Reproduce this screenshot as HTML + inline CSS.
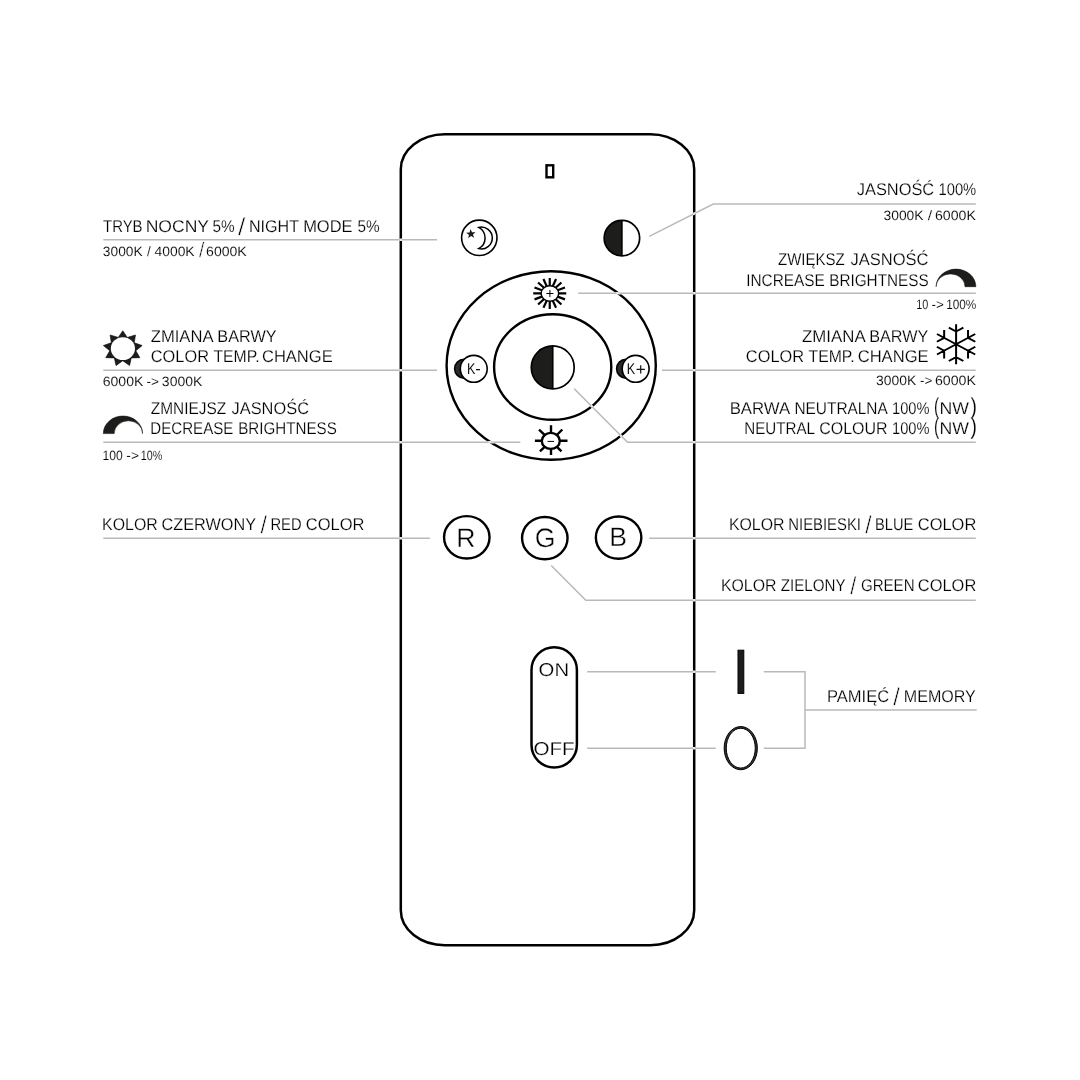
<!DOCTYPE html>
<html lang="pl">
<head>
<meta charset="utf-8">
<style>
html,body{margin:0;padding:0;background:#fff;}
body{width:1080px;height:1080px;overflow:hidden;}
svg{display:block;will-change:transform;}
text{font-family:"Liberation Sans",sans-serif;fill:#000;text-rendering:geometricPrecision;}
.m{font-size:17px;}
.s{font-size:13.5px;}
.thin{stroke:#fff;stroke-width:0.2px;}
.s.thin{stroke-width:0.12px;}
.tall{stroke-width:0.55px;}
.par{stroke-width:0.15px;}
.kt{fill:#111;}
.big{font-size:26.7px;stroke:#fff;stroke-width:0.4px;}
.sw{font-size:18.6px;stroke:#fff;stroke-width:0.2px;}
.ln{fill:none;stroke:#b9b9b9;stroke-width:1.5;}
.bk{fill:none;stroke:#000;}
</style>
</head>
<body>
<svg width="1080" height="1080" viewBox="0 0 1080 1080">
<rect width="1080" height="1080" fill="#fff"/>
<g id="remote">
<rect class="bk" x="400.8" y="134.2" width="293.4" height="811.1" rx="44" ry="35" stroke-width="2.5"/>
<rect class="bk" x="546.5" y="165.3" width="6.7" height="12" stroke-width="2.4"/>
</g>
<g id="btn-night">
<circle class="bk" cx="479.3" cy="237.85" r="17.7" stroke-width="1.6"/>
<path class="bk" stroke-width="1.5" stroke-linejoin="miter" d="M478.7 227.4A10.93 10.93 0 1 1 478.7 248.6A12 12 0 0 0 478.7 227.4Z"/>
<polygon fill="#1d1d1b" points="470.55,229.01 472.01,232.22 475.54,232.13 472.94,234.51 474.11,237.83 471.05,236.09 468.25,238.24 468.95,234.79 466.05,232.79 469.55,232.39"/>
</g>
<g><path fill="#1d1d1b" d="M621.9 220.35A17.75 17.75 0 0 0 621.9 255.85Z"/><circle class="bk" cx="621.9" cy="238.1" r="17.75" stroke-width="1.7"/><line class="bk" x1="621.9" y1="220.35" x2="621.9" y2="255.85" stroke-width="1.6"/></g>
<ellipse class="bk" cx="551.2" cy="365.5" rx="104.6" ry="94.3" stroke-width="2.4"/>
<ellipse class="bk" cx="552.7" cy="367.0" rx="58.6" ry="52.8" stroke-width="2.4"/>
<g><path fill="#1d1d1b" d="M552.75 345.95A21.45 21.45 0 0 0 552.75 388.85Z"/><circle class="bk" cx="552.75" cy="367.4" r="21.45" stroke-width="1.7"/><line class="bk" x1="552.75" y1="345.95" x2="552.75" y2="388.85" stroke-width="1.6"/></g>
<g><circle cx="464" cy="368.75" r="9.4" fill="#2b2b2a" stroke="#000" stroke-width="1.5"/><circle cx="473.75" cy="368.8" r="13.45" fill="#fff" stroke="#000" stroke-width="1.6"/><text class="kt" font-size="15.7"><tspan x="467" y="373.95" textLength="8.38" lengthAdjust="spacingAndGlyphs">K</tspan><tspan x="475.37" y="373.8" font-size="16.4">-</tspan></text></g>
<g><circle cx="625.95" cy="368.75" r="9.4" fill="#2b2b2a" stroke="#000" stroke-width="1.5"/><circle cx="635.65" cy="368.8" r="13.45" fill="#fff" stroke="#000" stroke-width="1.6"/><text class="kt" font-size="15.7"><tspan x="626.85" y="373.95" textLength="8.38" lengthAdjust="spacingAndGlyphs">K</tspan><tspan x="635.8" y="375" font-size="17">+</tspan></text></g>
<g><path class="bk" stroke-width="2.2" d="M549.75 286.45L549.75 277.9M552.43 286.98L556.06 279.08M554.7 288.5L561.42 282.45M556.22 290.77L564.99 287.5M556.75 293.45L566.25 293.45M556.22 296.13L564.99 299.4M554.7 298.4L561.42 304.45M552.43 299.92L556.06 307.82M549.75 300.45L549.75 309M547.07 299.92L543.44 307.82M544.8 298.4L538.08 304.45M543.28 296.13L534.51 299.4M542.75 293.45L533.25 293.45M543.28 290.77L534.51 287.5M544.8 288.5L538.08 282.45M547.07 286.98L543.44 279.08"/><ellipse cx="549.9" cy="293.5" rx="8.8" ry="7.7" fill="#fff" stroke="#000" stroke-width="1.5"/><path class="bk" stroke-width="1" d="M546.4 293.5H553.4M549.9 290V297"/></g>
<g>
<path class="bk" stroke-width="2.4" d="M551 440.8V425.3M551 440.8V454.9M551 440.8H534.9M551 440.8H567.5M551 440.8L539 429.7M551 440.8L562.3 429.5M551 440.8L539.9 451.3M551 440.8L561.5 451.4"/>
<ellipse cx="550.8" cy="440.9" rx="9" ry="8" fill="#fff" stroke="#000" stroke-width="2.4"/>
<path class="bk" stroke-width="1" d="M547.5 441.4H554.1"/>
</g>
<g><ellipse class="bk" cx="466.8" cy="537.3" rx="22.75" ry="21.15" stroke-width="2.4"/><text class="big" x="456.2" y="547">R</text></g>
<g><ellipse class="bk" cx="544.8" cy="538.1" rx="22.75" ry="21.15" stroke-width="2.4"/><text class="big" x="534.8" y="547">G</text></g>
<g><ellipse class="bk" cx="618.6" cy="537.6" rx="22.75" ry="21.15" stroke-width="2.4"/><text class="big" x="609.3" y="546">B</text></g>
<g id="switch">
<rect class="bk" x="531.5" y="647.25" width="45.4" height="120.25" rx="22.7" stroke-width="2.5"/>
<text class="sw" x="538.64" y="676" textLength="30.4" lengthAdjust="spacingAndGlyphs">ON</text>
<text class="sw" x="533.4" y="755" textLength="41.17" lengthAdjust="spacingAndGlyphs">OFF</text>
</g>
<rect x="738" y="650.2" width="5.8" height="43.2" fill="#1d1d1b" stroke="#000" stroke-width="1"/>
<ellipse cx="740.75" cy="748.15" rx="16.6" ry="21.6" fill="#333332" stroke="#000" stroke-width="1"/>
<ellipse cx="740.75" cy="748.15" rx="14.5" ry="19.9" fill="#fff" stroke="#000" stroke-width="1"/>
<g id="icon-warm">
<polygon fill="#1d1d1b" stroke="#000" stroke-width="0.6" stroke-linejoin="miter" points="122.8,330.8 127.31,337.43 135.46,334.99 134.23,342.7 142.2,345.59 135.8,350.78 139.86,357.65 131.28,357.89 129.54,365.52 122.8,360.69 116.06,365.52 114.32,357.89 105.74,357.65 109.8,350.78 103.4,345.59 111.37,342.7 110.14,334.99 118.29,337.43"/>
<ellipse cx="122.9" cy="348.6" rx="12.1" ry="11.4" fill="#fff"/>
</g>
<path fill="#1d1d1b" stroke="#000" stroke-width="0.5" d="M103.3 433.6A19.65 17.6 0 0 1 142.6 433.6L142.6 433.6A14.2 12.8 0 0 0 114.2 433.6Z"/>
<path fill="#1d1d1b" stroke="#000" stroke-width="0.5" d="M936.1 286.7A19.9 17.6 0 0 1 975.9 286.7L965 286.7A14.45 12.8 0 0 0 936.1 286.7Z"/>
<g id="icon-cold" transform="translate(956.1 344.3) scale(1.077 1)" class="bk" stroke-width="1.85" stroke-linecap="butt">
<path d="M0 0L0 -20M0 -12.8L-6.75 -16.7M0 -12.8L6.75 -16.7M0 0L17.75 -10.25M11.09 -6.4L11.09 -14.2M11.09 -6.4L17.84 -2.5M0 0L17.75 10.25M11.09 6.4L17.84 2.5M11.09 6.4L11.09 14.2M0 0L0 20M0 12.8L6.75 16.7M0 12.8L-6.75 16.7M0 0L-17.75 10.25M-11.09 6.4L-11.09 14.2M-11.09 6.4L-17.84 2.5M0 0L-17.75 -10.25M-11.09 -6.4L-17.84 -2.5M-11.09 -6.4L-11.09 -14.2"/>
</g>
<g id="leaders" class="ln">
<path d="M103.3 239.8H437.1"/>
<path d="M103.3 370.3H437.1"/>
<path d="M103.3 442.3H520.3"/>
<path d="M103.3 538.3H429.9"/>
<path d="M649.2 236.3L713.3 204H975.8"/>
<path d="M578.3 293.3H975.8"/>
<path d="M662 370.3H975.8"/>
<path d="M574.2 388.7L627.5 442.3H975.8"/>
<path d="M649.2 538.3H975.8"/>
<path d="M551.2 565.5L585.8 600.2H975.8"/>
<path d="M587.2 671.7H715.8"/>
<path d="M587.2 748.3H715.8"/>
<path d="M763.7 671.7H805V748.3H763.7"/>
<path d="M805 710H976.7"/>
</g>
<mask id="xing" maskUnits="userSpaceOnUse" x="0" y="0" width="1080" height="1080">
<rect width="1080" height="1080" fill="#000"/>
<path fill="none" stroke="#fff" stroke-width="2.4" d="M103.3 239.8H437.1M103.3 370.3H437.1M103.3 442.3H520.3M103.3 538.3H429.9M649.2 236.3L713.3 204H975.8M578.3 293.3H975.8M662 370.3H975.8M574.2 388.7L627.5 442.3H975.8M649.2 538.3H975.8M551.2 565.5L585.8 600.2H975.8M587.2 671.7H715.8M587.2 748.3H715.8M763.7 671.7H805V748.3H763.7M805 710H976.7"/>
</mask>
<g mask="url(#xing)" fill="none" stroke="#e6e6e6">
<rect x="400.8" y="134.2" width="293.4" height="811.1" rx="44" ry="35" stroke-width="2.5"/>
<ellipse cx="551.2" cy="365.5" rx="104.6" ry="94.3" stroke-width="2.4"/>
<ellipse cx="552.7" cy="367.0" rx="58.6" ry="52.8" stroke-width="2.4"/>
</g>
<g id="labels">
<text class="m thin"><tspan x="103.07" y="232" textLength="39.51" lengthAdjust="spacingAndGlyphs">TRYB</tspan> <tspan x="145.67" y="232" textLength="63.12" lengthAdjust="spacingAndGlyphs">NOCNY</tspan> <tspan x="212.49" y="232" textLength="22.16" lengthAdjust="spacingAndGlyphs">5%</tspan> <tspan x="237.95" y="235" class="tall" font-size="24.6" textLength="7.4" lengthAdjust="spacingAndGlyphs">/</tspan> <tspan x="248.99" y="232" textLength="49.78" lengthAdjust="spacingAndGlyphs">NIGHT</tspan> <tspan x="303.15" y="232" textLength="49.46" lengthAdjust="spacingAndGlyphs">MODE</tspan> <tspan x="357.39" y="232" textLength="22.16" lengthAdjust="spacingAndGlyphs">5%</tspan></text>
<text class="s thin"><tspan x="102.88" y="256" textLength="39.78" lengthAdjust="spacingAndGlyphs">3000K</tspan> <tspan x="147.1" y="256" textLength="3.7" lengthAdjust="spacingAndGlyphs">/</tspan> <tspan x="154.48" y="256" textLength="40.17" lengthAdjust="spacingAndGlyphs">4000K</tspan> <tspan x="199.05" y="257" class="tall" font-size="21.2" textLength="5.4" lengthAdjust="spacingAndGlyphs">/</tspan> <tspan x="206.09" y="256" textLength="40.67" lengthAdjust="spacingAndGlyphs">6000K</tspan></text>
<text class="m thin"><tspan x="150.78" y="342" textLength="61.85" lengthAdjust="spacingAndGlyphs">ZMIANA</tspan> <tspan x="217.33" y="342" textLength="59.23" lengthAdjust="spacingAndGlyphs">BARWY</tspan></text>
<text class="m thin"><tspan x="150.77" y="362" textLength="58.19" lengthAdjust="spacingAndGlyphs">COLOR</tspan> <tspan x="213.46" y="362" textLength="46.12" lengthAdjust="spacingAndGlyphs">TEMP.</tspan> <tspan x="261.96" y="362" textLength="70.75" lengthAdjust="spacingAndGlyphs">CHANGE</tspan></text>
<text class="s thin"><tspan x="102.69" y="386" textLength="40.67" lengthAdjust="spacingAndGlyphs">6000K</tspan> <tspan x="146.49" y="386" textLength="12.58" lengthAdjust="spacingAndGlyphs">-&gt;</tspan> <tspan x="161.87" y="386" textLength="40.49" lengthAdjust="spacingAndGlyphs">3000K</tspan></text>
<text class="m thin"><tspan x="150.81" y="414" textLength="75.47" lengthAdjust="spacingAndGlyphs">ZMNIEJSZ</tspan> <tspan x="231.54" y="414" textLength="77.48" lengthAdjust="spacingAndGlyphs">JASNOŚĆ</tspan></text>
<text class="m thin"><tspan x="150.36" y="434" textLength="82.99" lengthAdjust="spacingAndGlyphs">DECREASE</tspan> <tspan x="238.26" y="434" textLength="98.54" lengthAdjust="spacingAndGlyphs">BRIGHTNESS</tspan></text>
<text class="s thin"><tspan x="102.47" y="460" textLength="20.3" lengthAdjust="spacingAndGlyphs">100</tspan> <tspan x="126.39" y="460" textLength="12.58" lengthAdjust="spacingAndGlyphs">-&gt;</tspan> <tspan x="140.78" y="460" textLength="21.5" lengthAdjust="spacingAndGlyphs">10%</tspan></text>
<text class="m thin"><tspan x="102.1" y="530" textLength="55.64" lengthAdjust="spacingAndGlyphs">KOLOR</tspan> <tspan x="161.58" y="530" textLength="94.17" lengthAdjust="spacingAndGlyphs">CZERWONY</tspan> <tspan x="260.55" y="533" class="tall" font-size="24.6" textLength="6.5" lengthAdjust="spacingAndGlyphs">/</tspan> <tspan x="270.39" y="530" textLength="31.22" lengthAdjust="spacingAndGlyphs">RED</tspan> <tspan x="305.76" y="530" textLength="58.7" lengthAdjust="spacingAndGlyphs">COLOR</tspan></text>
<text class="m thin"><tspan x="856.74" y="195" textLength="77.48" lengthAdjust="spacingAndGlyphs">JASNOŚĆ</tspan> <tspan x="938.48" y="195" textLength="37.75" lengthAdjust="spacingAndGlyphs">100%</tspan></text>
<text class="s thin"><tspan x="883.57" y="220" textLength="39.98" lengthAdjust="spacingAndGlyphs">3000K</tspan> <tspan x="927.8" y="220" textLength="4.4" lengthAdjust="spacingAndGlyphs">/</tspan> <tspan x="934.98" y="220" textLength="40.88" lengthAdjust="spacingAndGlyphs">6000K</tspan></text>
<text class="m thin"><tspan x="778.02" y="265" textLength="66.75" lengthAdjust="spacingAndGlyphs">ZWIĘKSZ</tspan> <tspan x="850.54" y="265" textLength="77.99" lengthAdjust="spacingAndGlyphs">JASNOŚĆ</tspan></text>
<text class="m thin"><tspan x="746.28" y="286" textLength="78.48" lengthAdjust="spacingAndGlyphs">INCREASE</tspan> <tspan x="829.25" y="286" textLength="99.36" lengthAdjust="spacingAndGlyphs">BRIGHTNESS</tspan></text>
<text class="s thin"><tspan x="916.27" y="309" textLength="12.05" lengthAdjust="spacingAndGlyphs">10</tspan> <tspan x="931.5" y="309" textLength="12.36" lengthAdjust="spacingAndGlyphs">-&gt;</tspan> <tspan x="946.2" y="309" textLength="30.12" lengthAdjust="spacingAndGlyphs">100%</tspan></text>
<text class="m thin"><tspan x="802.07" y="342" textLength="62.66" lengthAdjust="spacingAndGlyphs">ZMIANA</tspan> <tspan x="869.18" y="342" textLength="59.08" lengthAdjust="spacingAndGlyphs">BARWY</tspan></text>
<text class="m thin"><tspan x="745.87" y="362" textLength="58.19" lengthAdjust="spacingAndGlyphs">COLOR</tspan> <tspan x="808.56" y="362" textLength="46.12" lengthAdjust="spacingAndGlyphs">TEMP.</tspan> <tspan x="857.66" y="362" textLength="70.95" lengthAdjust="spacingAndGlyphs">CHANGE</tspan></text>
<text class="s thin"><tspan x="876.07" y="385" textLength="40.19" lengthAdjust="spacingAndGlyphs">3000K</tspan> <tspan x="920.1" y="385" textLength="12.36" lengthAdjust="spacingAndGlyphs">-&gt;</tspan> <tspan x="934.98" y="385" textLength="40.98" lengthAdjust="spacingAndGlyphs">6000K</tspan></text>
<text class="m thin"><tspan x="729.67" y="414" textLength="59.67" lengthAdjust="spacingAndGlyphs">BARWA</tspan> <tspan x="794.45" y="414" textLength="92.48" lengthAdjust="spacingAndGlyphs">NEUTRALNA</tspan> <tspan x="892.09" y="414" textLength="37.44" lengthAdjust="spacingAndGlyphs">100%</tspan> <tspan x="933.94" y="414" class="par" font-size="23" textLength="5.15" lengthAdjust="spacingAndGlyphs">(</tspan><tspan x="939.45" y="414" textLength="29.51" lengthAdjust="spacingAndGlyphs">NW</tspan><tspan x="970.59" y="414" class="par" font-size="23" textLength="6.41" lengthAdjust="spacingAndGlyphs">)</tspan></text>
<text class="m thin"><tspan x="744.27" y="434" textLength="70.23" lengthAdjust="spacingAndGlyphs">NEUTRAL</tspan> <tspan x="819.19" y="434" textLength="68.45" lengthAdjust="spacingAndGlyphs">COLOUR</tspan> <tspan x="892.09" y="434" textLength="37.44" lengthAdjust="spacingAndGlyphs">100%</tspan> <tspan x="933.94" y="434" class="par" font-size="23" textLength="5.15" lengthAdjust="spacingAndGlyphs">(</tspan><tspan x="939.45" y="434" textLength="29.51" lengthAdjust="spacingAndGlyphs">NW</tspan><tspan x="970.59" y="434" class="par" font-size="23" textLength="6.41" lengthAdjust="spacingAndGlyphs">)</tspan></text>
<text class="m thin"><tspan x="728.9" y="530" textLength="55.69" lengthAdjust="spacingAndGlyphs">KOLOR</tspan> <tspan x="788.28" y="530" textLength="72.69" lengthAdjust="spacingAndGlyphs">NIEBIESKI</tspan> <tspan x="865.35" y="533" class="tall" font-size="24.6" textLength="6.4" lengthAdjust="spacingAndGlyphs">/</tspan> <tspan x="875.1" y="530" textLength="38.12" lengthAdjust="spacingAndGlyphs">BLUE</tspan> <tspan x="917.82" y="530" textLength="58.45" lengthAdjust="spacingAndGlyphs">COLOR</tspan></text>
<text class="m thin"><tspan x="720.9" y="591" textLength="55.64" lengthAdjust="spacingAndGlyphs">KOLOR</tspan> <tspan x="780.82" y="591" textLength="64.51" lengthAdjust="spacingAndGlyphs">ZIELONY</tspan> <tspan x="850.25" y="594" class="tall" font-size="24.6" textLength="6.1" lengthAdjust="spacingAndGlyphs">/</tspan> <tspan x="860.94" y="591" textLength="53.59" lengthAdjust="spacingAndGlyphs">GREEN</tspan> <tspan x="917.82" y="591" textLength="58.45" lengthAdjust="spacingAndGlyphs">COLOR</tspan></text>
<text class="m thin"><tspan x="826.97" y="702" textLength="62.15" lengthAdjust="spacingAndGlyphs">PAMIĘĆ</tspan> <tspan x="893.35" y="705" class="tall" font-size="24.6" textLength="6.6" lengthAdjust="spacingAndGlyphs">/</tspan> <tspan x="903.79" y="702" textLength="72.07" lengthAdjust="spacingAndGlyphs">MEMORY</tspan></text>
</g>
</svg>
</body>
</html>
